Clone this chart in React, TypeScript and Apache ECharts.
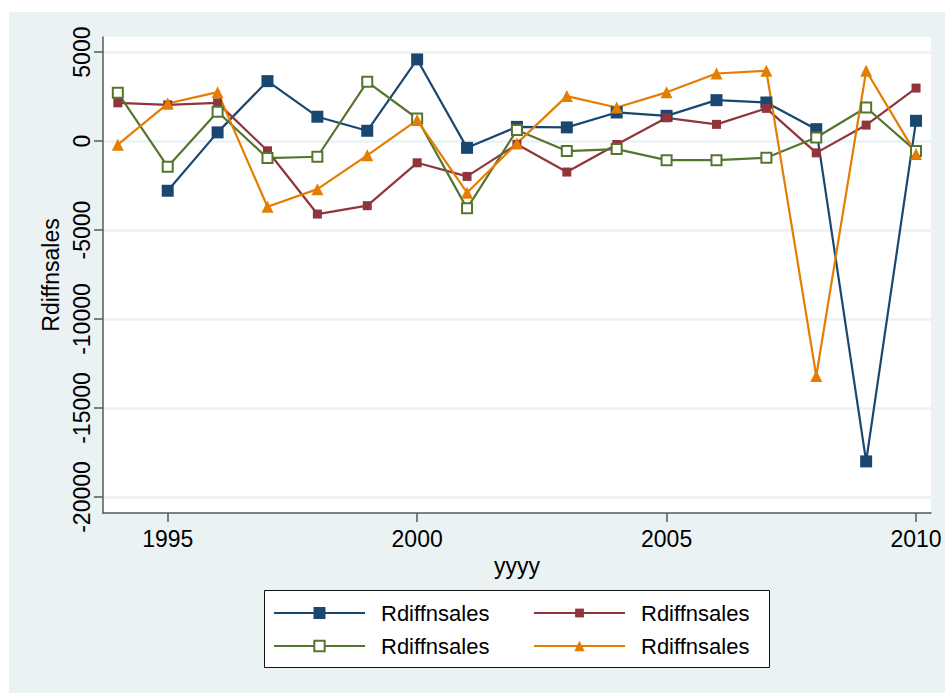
import React, { useEffect, useRef } from "react";
import * as echarts from "echarts";

const years = [1994, 1995, 1996, 1997, 1998, 1999, 2000, 2001, 2002, 2003, 2004, 2005, 2006, 2007, 2008, 2009, 2010];
const navyValues = [null, -2790, 490, 3370, 1370, 580, 4590, -380, 800, 770, 1610, 1420, 2300, 2170, 670, -18000, 1140];
const maroonValues = [2150, 2040, 2150, -545, -4100, -3630, -1220, -1985, -180, -1740, -190, 1310, 940, 1840, -660, 900, 2980];
const greenValues = [2710, -1440, 1650, -955, -880, 3330, 1270, -3780, 620, -560, -450, -1070, -1070, -940, 205, 1890, -560];
const orangeValues = [-200, 2110, 2750, -3690, -2700, -800, 1180, -2900, -130, 2530, 1890, 2740, 3800, 3950, -13200, 3950, -730];

const xTicks = [1995, 2000, 2005, 2010];
const yTicks = [-20000, -15000, -10000, -5000, 0, 5000];
const seriesLabel = "Rdiffnsales";
const xTitle = "yyyy";
const yTitle = "Rdiffnsales";

const FONT = "'Liberation Sans', Arial, Helvetica, sans-serif";
const AXIS = "#585858";
const BG = "#eaf2f3";

function pairs(vals: (number | null)[]) {
  const out: [number, number][] = [];
  vals.forEach((v, i) => {
    if (v !== null) out.push([years[i], v]);
  });
  return out;
}

export default function App() {
  const ref = useRef<HTMLDivElement>(null);
  useEffect(() => {
    document.body.style.margin = "0";
    const chart = echarts.init(ref.current!, null, { renderer: "svg" });
    const mkSeries = (id: string, vals: (number | null)[], color: string, symbol: string, size: number) => ({
      type: "line",
      name: id,
      data: pairs(vals),
      color,
      symbol,
      symbolSize: size,
      showAllSymbol: true,
      lineStyle: { color, width: 2.2 },
      itemStyle: { color },
      z: 3,
    });
    const mkLegend = (id: string, left: number, top: number, itemHeight: number) => ({
      data: [id],
      left,
      top,
      orient: "horizontal",
      padding: 0,
      itemWidth: 91,
      itemHeight,
      selectedMode: false,
      formatter: () => seriesLabel,
      textStyle: {
        fontFamily: FONT,
        fontSize: 22,
        color: "#000",
        lineHeight: 24,
        padding: [0, 0, 0, 11],
      },
    });
    chart.setOption({
      animation: false,
      backgroundColor: "#fff",
      graphic: [
        {
          type: "rect",
          z: -10,
          shape: { x: 9, y: 12, width: 945, height: 700 },
          style: { fill: BG },
          silent: true,
        },
        {
          type: "rect",
          z: 1,
          shape: { x: 264.5, y: 590.5, width: 505, height: 77 },
          style: { fill: "#fff", stroke: "#111", lineWidth: 1 },
          silent: true,
        },
      ],
      grid: {
        left: 103,
        right: 14,
        top: 37,
        bottom: 180,
        show: true,
        backgroundColor: "#fff",
        borderWidth: 0,
      },
      xAxis: {
        type: "value",
        min: 1993.703,
        max: 2010.3,
        name: xTitle,
        nameLocation: "middle",
        nameGap: 36,
        nameTextStyle: { fontFamily: FONT, fontSize: 23, color: "#000" },
        axisLine: { show: true, onZero: false, lineStyle: { color: AXIS, width: 1.5 } },
        axisTick: { show: true, inside: false, length: 9, customValues: xTicks, lineStyle: { color: AXIS, width: 1.5 } },
        axisLabel: {
          customValues: xTicks,
          margin: 14,
          fontFamily: FONT,
          fontSize: 23,
          color: "#000",
          formatter: (v: number) => String(v),
        },
        splitLine: { show: false },
      },
      yAxis: {
        type: "value",
        min: -20900,
        max: 5850,
        name: yTitle,
        nameLocation: "middle",
        nameRotate: 90,
        nameGap: 41,
        nameTextStyle: { fontFamily: FONT, fontSize: 23, color: "#000" },
        axisLine: { show: true, onZero: false, lineStyle: { color: AXIS, width: 1.5 } },
        axisTick: { show: true, inside: false, length: 9, customValues: yTicks, lineStyle: { color: AXIS, width: 1.5 } },
        axisLabel: {
          customValues: yTicks,
          rotate: 90,
          margin: 10,
          fontFamily: FONT,
          fontSize: 23,
          color: "#000",
          formatter: (v: number) => String(v),
        },
        splitLine: { show: true, lineStyle: { color: BG, width: 2.5 } },
      },
      legend: [
        mkLegend("s1", 273, 601, 15),
        mkLegend("s2", 533, 601, 11),
        mkLegend("s3", 273, 634, 13),
        mkLegend("s4", 533, 634, 13),
      ],
      series: [
        mkSeries("s1", navyValues, "#1a476f", "rect", 12),
        mkSeries("s2", maroonValues, "#90353b", "rect", 9),
        mkSeries("s3", greenValues, "#55752f", "emptyRect", 10),
        mkSeries("s4", orangeValues, "#e37e00", "triangle", 12),
      ],
    });
    return () => chart.dispose();
  }, []);
  return <div ref={ref} style={{ width: 945, height: 693 }} />;
}
